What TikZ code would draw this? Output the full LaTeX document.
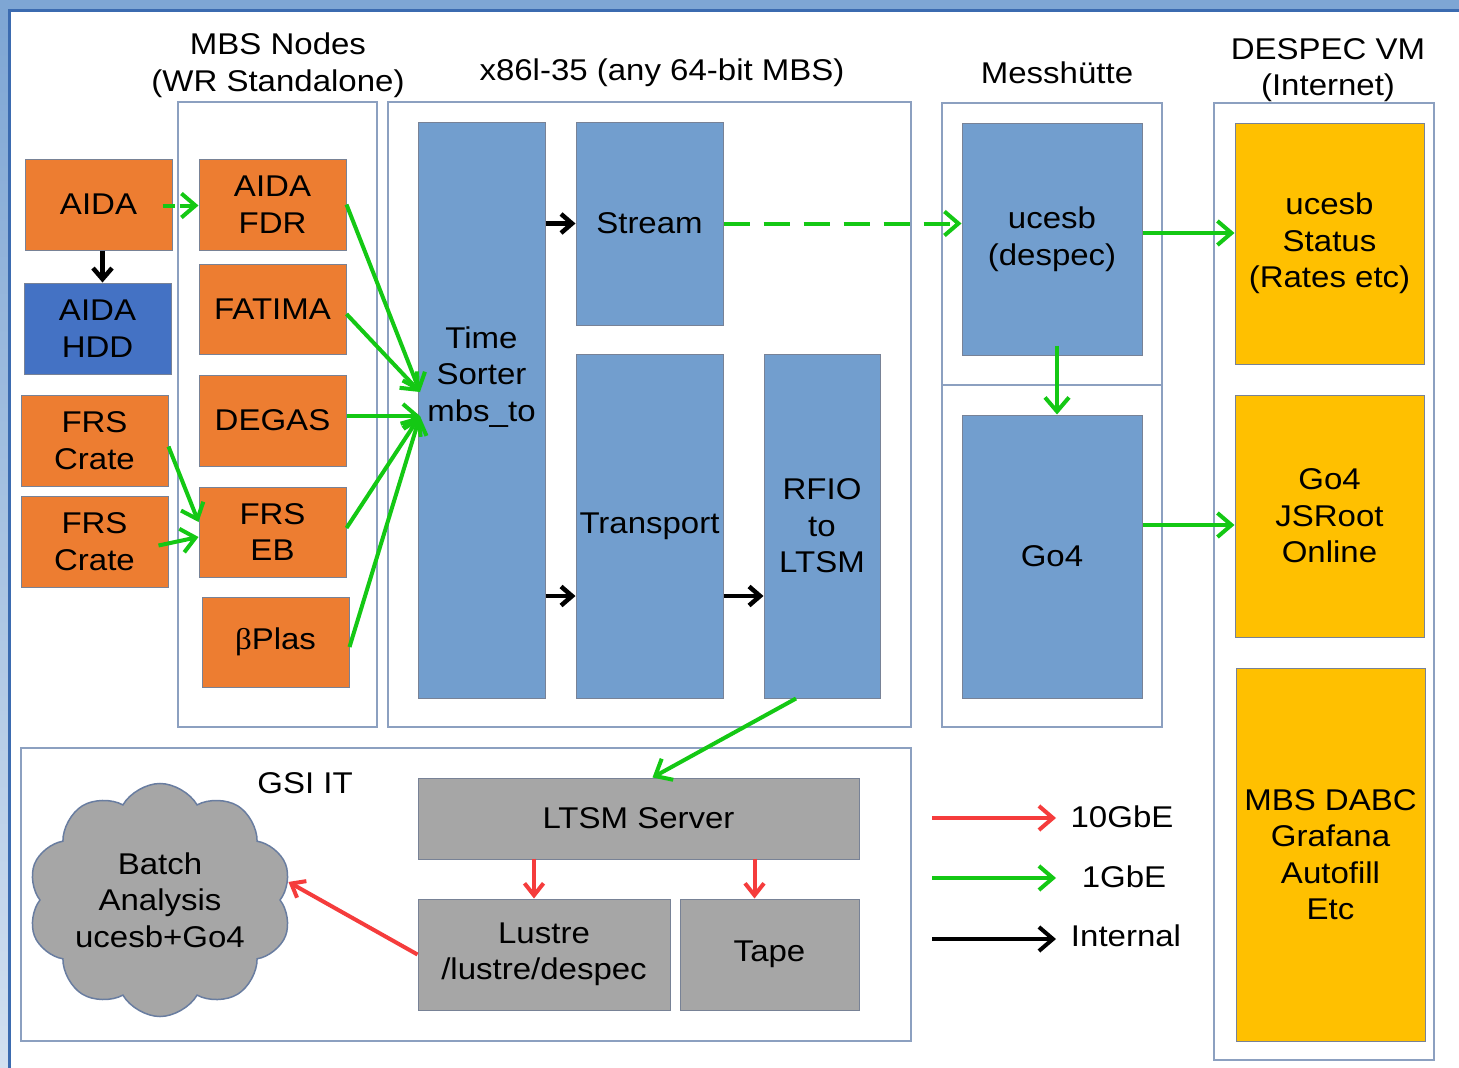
\documentclass[tikz,border=0pt]{standalone}
\usepackage{fontspec}
\setmainfont{Liberation Sans}[FakeStretch=1.1]
\newfontfamily\betafont{Liberation Serif}[FakeStretch=1.1]
\usetikzlibrary{arrows.meta, positioning, calc, shapes.symbols}
\definecolor{OG}{RGB}{237,125,49}
\definecolor{LB}{RGB}{114,158,206}
\definecolor{DB}{RGB}{68,114,196}
\definecolor{YL}{RGB}{255,192,0}
\definecolor{GY}{RGB}{166,166,166}
\definecolor{GN}{RGB}{20,200,20}
\definecolor{RD}{RGB}{245,60,60}
\definecolor{BD}{RGB}{120,130,150}
\definecolor{GB}{RGB}{140,160,192}
\definecolor{CB}{RGB}{105,125,160}
\definecolor{FL}{RGB}{126,166,212}
\definecolor{FD}{RGB}{59,107,176}

\begin{document}
\begin{tikzpicture}[x=1pt, y=-1pt,
  every node/.style={font=\fontsize{30}{36.5}\selectfont, align=center, inner sep=0pt},
  box/.style={draw=BD, line width=1pt, fill=#1},
  sz/.style 2 args={minimum width=#1pt, minimum height=#2pt},
  grp/.style={draw=GB, line width=1.2pt},
  gline/.style={draw=GN, line width=4pt, -{Straight Barb[length=14pt,width=24pt]}},
  kline/.style={draw=black, line width=4.5pt, -{Straight Barb[length=11pt,width=19pt]}},
  rline/.style={draw=RD, line width=4pt, -{Straight Barb[length=14pt,width=24pt]}},
  rlink/.style={draw=RD, line width=4pt, -{Straight Barb[length=12pt,width=19pt]}}
]
\useasboundingbox (0,0) rectangle (1459,1068);

% Frame
\fill[white] (0,0) rectangle (1459,1068);
\fill[FL] (0,0) rectangle (1459,10);
\shade[top color=FL, bottom color=FL!35] (0,10) rectangle (8,1068);
\fill[FD] (8,9) rectangle (1459,12);
\fill[FD] (8,9) rectangle (11,1068);

% Group boxes
\node[grp, sz={199}{625}] (mbsgrp) at (277.5,414.5) {};
\node[grp, sz={523}{625}] (x86grp) at (649.5,414.5) {};
\node[grp, sz={220}{282}] (messtop) at (1052,244) {};
\node[grp, sz={220}{342}] (messbot) at (1052,556) {};
\node[grp, sz={220}{957}] (vmgrp) at (1324,581.5) {};
\node[grp, sz={890}{293}] (gsigrp) at (466,894.5) {};

% Titles
\node (mbslbl) at (278,65) {MBS Nodes\\(WR Standalone)};
\node (x86lbl) at (662,73) {x86l-35 (any 64-bit MBS)};
\node (messlbl) at (1057,73) {Messhütte};
\node (vmlbl) at (1328,70) {DESPEC VM\\(Internet)};
\node (gsilbl) at (305,783) {GSI IT};

% MBS nodes
\node[box=OG, sz={147}{91}] (aida) at (98.5,204.5) {AIDA};
\node[box=DB, sz={147}{91}] (hdd) at (97.5,328.5) {AIDA\\HDD};
\node[box=OG, sz={147}{91}] (crateA) at (94.5,440.5) {FRS\\Crate};
\node[box=OG, sz={147}{91}] (crateB) at (94.5,541.5) {FRS\\Crate};
\node[box=OG, sz={147}{91}] (fdr) at (272.5,204.5) {AIDA\\FDR};
\node[box=OG, sz={147}{90}] (fatima) at (272.5,309) {FATIMA};
\node[box=OG, sz={147}{91}] (degas) at (272.5,420.5) {DEGAS};
\node[box=OG, sz={147}{90}] (frseb) at (272.5,532) {FRS\\EB};
\node[box=OG, sz={147}{90}] (bplas) at (275.5,642) {{\betafont β}Plas};

% x86l-35 blocks
\node[box=LB, sz={127}{576}] (sorter) at (481.5,410) {};
\node (sortertxt) at (481.5,377) {Time\\Sorter\\mbs\_to};
\node[box=LB, sz={147}{203}] (stream) at (649.5,223.5) {Stream};
\node[box=LB, sz={147}{344}] (transport) at (649.5,526) {Transport};
\node[box=LB, sz={116}{344}] (rfio) at (822,526) {RFIO\\to\\LTSM};

% Messhuette
\node[box=LB, sz={180}{232}] (ucesb) at (1052,239) {ucesb\\(despec)};
\node[box=LB, sz={180}{283}] (go4) at (1052,556.5) {Go4};

% DESPEC VM
\node[box=YL, sz={189}{241}] (status) at (1329.5,243.5) {ucesb\\Status\\(Rates etc)};
\node[box=YL, sz={189}{242}] (jsroot) at (1329.5,516) {Go4\\JSRoot\\Online};
\node[box=YL, sz={189}{373}] (dabc) at (1330.5,854.5) {MBS DABC\\Grafana\\Autofill\\Etc};

% GSI IT
\node[box=GY, sz={441}{81}] (ltsm) at (638.5,818.5) {LTSM Server};
\node[box=GY, sz={252}{111}] (lustre) at (544,954.5) {Lustre\\/lustre/despec};
\node[box=GY, sz={179}{111}] (tape) at (769.5,954.5) {Tape};
\node[cloud, cloud puffs=10, cloud puff arc=120, aspect=1.2, draw=CB, fill=GY,
  line width=1.5pt, sz={258}{218}] (batch) at (160,900) {Batch\\Analysis\\ucesb+Go4};

% 1GbE links
\coordinate (tsinA) at (420,392);
\coordinate (tsinB) at (420,416);
\draw[gline, dash pattern=on 12pt off 5pt] ($(aida.east)+(-10,1)$) -- ($(fdr.west)+(0,1)$);
\draw[gline] (fdr.east) -- (tsinA);
\draw[gline] ($(fatima.east)+(0,5)$) -- (tsinA);
\draw[gline] (degas.east |- tsinB) -- (tsinB);
\draw[gline] ($(frseb.east)+(0,-4)$) -- (tsinB);
\draw[gline] ($(bplas.east)+(0,5)$) -- (tsinB);
\draw[gline] ($(crateA.east)+(0,6)$) -- ($(frseb.west)+(0,-10)$);
\draw[gline] ($(crateB.east)+(-10,4)$) -- ($(frseb.west)+(0,5)$);
\draw[gline, dash pattern=on 26pt off 14pt] (stream.east) -- (stream.east -| ucesb.west);
\draw[gline] ($(ucesb.east)+(0,-6)$) -- ($(status.west)+(0,-10.5)$);
\draw[gline] ($(go4.east)+(0,-31.5)$) -- ($(jsroot.west)+(0,9)$);
\draw[gline] ($(ucesb.south)+(5,-10)$) -- ($(go4.north)+(5,0)$);
\draw[gline] ($(rfio.south)+(-26,0)$) -- ($(ltsm.north)+(14,0)$);

% Internal links
\coordinate (tsout) at (545,596);
\draw[kline] ($(aida.south)+(4,0)$) -- ($(hdd.north)+(5,0)$);
\draw[kline] (sorter.east |- stream.west) -- (stream.west);
\draw[kline] (sorter.east |- tsout) -- (transport.west |- tsout);
\draw[kline] (transport.east |- tsout) -- (rfio.west |- tsout);

% 10GbE links
\draw[rlink] ($(lustre.north)+(-10,-40)$) -- ($(lustre.north)+(-10,0)$);
\draw[rlink] ($(tape.north)+(-15,-40)$) -- ($(tape.north)+(-15,0)$);
\draw[rlink] (lustre.west) -- (batch.8);

% Legend
\coordinate (k10s) at (932,818);  \coordinate (k10e) at (1056,818);
\coordinate (k1s)  at (932,878);  \coordinate (k1e)  at (1056,878);
\coordinate (kins) at (932,939);  \coordinate (kine) at (1056,939);
\draw[rline] (k10s) -- (k10e);
\draw[gline] (k1s) -- (k1e);
\draw[kline, line width=4pt, -{Straight Barb[length=14pt,width=24pt]}] (kins) -- (kine);
\node (k10) at (1122,817) {10GbE};
\node (k1)  at (1124,877) {1GbE};
\node (kin) at (1126,936) {Internal};
\end{tikzpicture}
\end{document}
